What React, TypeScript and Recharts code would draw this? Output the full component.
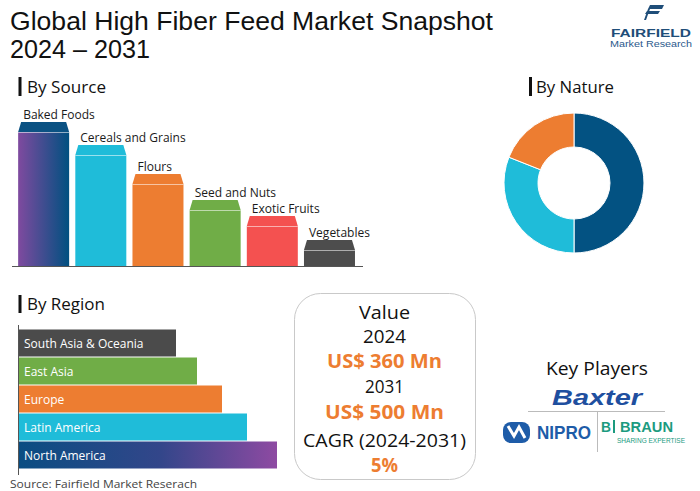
import React from 'react';
import { BarChart, Bar, XAxis, YAxis, PieChart, Pie, Cell } from 'recharts';

const FONT = "'Open Sans', 'Noto Sans', sans-serif";
const ARIAL = "'Liberation Sans', 'DejaVu Sans', sans-serif";

const sourceCategories = ['Baked Foods', 'Cereals and Grains', 'Flours', 'Seed and Nuts', 'Exotic Fruits', 'Vegetables'];
const sourceValues = [144, 121, 92, 66, 50, 26];
const sourceColors = ['url(#bakedGrad)', '#1fbcd9', '#ed7d31', '#70ad47', '#f45150', '#4d4d4d'];
const sourceCapColors = ['#0b5283', '#1fbcd9', '#ed7d31', '#70ad47', '#f45150', '#4d4d4d'];

const regionCategories = ['South Asia & Oceania', 'East Asia', 'Europe', 'Latin America', 'North America'];
const regionValues = [157, 178, 203, 228, 258];
const regionColors = ['#4b4b4b', '#70ad47', '#ed7d31', '#1fbcd9', 'url(#naGrad)'];

const natureCategories = ['Segment 1', 'Segment 2', 'Segment 3'];
const natureValues = [50, 31, 19];
const natureColors = ['#035282', '#1fbcd9', '#ed7d31'];

const sourceData = sourceCategories.map((name, i) => ({ name, value: sourceValues[i] }));
const regionData = regionCategories.map((name, i) => ({ name, value: regionValues[i] }));
const natureData = natureCategories.map((name, i) => ({ name, value: natureValues[i] }));

const SourceBarShape = (props: any) => {
  const { x, y, width, height, index, payload } = props;
  const cap = Math.min(10, height);
  const inset = 3;
  const body = sourceColors[index];
  const capColor = sourceCapColors[index];
  return (
    <g>
      <defs>
        <linearGradient id="bakedGrad" x1="0" y1="0" x2="1" y2="0">
          <stop offset="0%" stopColor="#7f4a9f" />
          <stop offset="100%" stopColor="#005080" />
        </linearGradient>
      </defs>
      <polygon
        points={`${x + inset},${y} ${x + width - inset},${y} ${x + width},${y + cap} ${x},${y + cap}`}
        fill={capColor}
      />
      <rect x={x} y={y + cap} width={width} height={height - cap} fill={body} />
      <line x1={x} x2={x + width} y1={y + cap + 0.5} y2={y + cap + 0.5} stroke="#ffffff" strokeOpacity={0.55} strokeWidth={1} />
      <text x={x + 5} y={y - 8} fontSize={12} fontFamily={FONT} fill="#1a1a1a" dominantBaseline="central">
        {payload.name}
      </text>
    </g>
  );
};

const RegionBarShape = (props: any) => {
  const { x, y, width, height, index, payload } = props;
  return (
    <g>
      <defs>
        <linearGradient id="naGrad" x1="0" y1="0" x2="1" y2="0">
          <stop offset="0%" stopColor="#0a4d82" />
          <stop offset="55%" stopColor="#33468a" />
          <stop offset="100%" stopColor="#8e4aa2" />
        </linearGradient>
      </defs>
      <rect x={x} y={y} width={width} height={height} fill={regionColors[index]} />
      <text x={x + 5} y={y + height / 2} fontSize={12} fontFamily={FONT} fill="#ffffff" dominantBaseline="central">
        {payload.name}
      </text>
    </g>
  );
};

export default function App() {
  return (
    <div style={{ position: 'absolute', left: 0, top: 0, width: 700, height: 491, background: '#ffffff', overflow: 'hidden' }}>
      <svg width={700} height={491} style={{ position: 'absolute', left: 0, top: 0 }}>
        {/* Title */}
        <text x={10} y={30} fontSize={25} fontFamily={ARIAL} fill="#111" textLength={483} lengthAdjust="spacingAndGlyphs">
          Global High Fiber Feed Market Snapshot
        </text>
        <text x={10} y={58} fontSize={25} fontFamily={ARIAL} fill="#111" textLength={140} lengthAdjust="spacingAndGlyphs">
          2024 – 2031
        </text>

        {/* Fairfield logo */}
        <polygon points="650,5 664,5 662,9 648,9" fill="#1f4e79" />
        <polygon points="647,11 660,11 658,14 645,14" fill="#1f4e79" />
        <polygon points="648,9 650,9 646,20 644,20" fill="#1f4e79" />
        <text x={651} y={36.5} fontSize={11} fontWeight={700} fontFamily={ARIAL} fill="#1f4e79" textAnchor="middle" textLength={80} lengthAdjust="spacingAndGlyphs">
          FAIRFIELD
        </text>
        <text x={651} y={47} fontSize={9} fontFamily={ARIAL} fill="#2b5a8c" textAnchor="middle" textLength={82} lengthAdjust="spacingAndGlyphs">
          Market Research
        </text>

        {/* Section headers */}
        <rect x={18.5} y={77} width={3} height={19} fill="#111" />
        <text x={27} y={86} fontSize={17} fontFamily={FONT} fill="#111" dominantBaseline="central" textLength={79} lengthAdjust="spacingAndGlyphs">
          By Source
        </text>
        <rect x={529} y={77} width={3} height={19} fill="#111" />
        <text x={536} y={86} fontSize={17} fontFamily={FONT} fill="#111" dominantBaseline="central" textLength={78} lengthAdjust="spacingAndGlyphs">
          By Nature
        </text>
        <rect x={18.5} y={295} width={3} height={18} fill="#111" />
        <text x={27} y={303} fontSize={17} fontFamily={FONT} fill="#111" dominantBaseline="central" textLength={78} lengthAdjust="spacingAndGlyphs">
          By Region
        </text>

        {/* Axis rules */}
        <line x1={12} x2={363} y1={266.5} y2={266.5} stroke="#555" strokeWidth={1} />
        <line x1={18.5} x2={18.5} y1={325} y2={475} stroke="#555" strokeWidth={1} />

        {/* Source */}
        <text x={10} y={483} fontSize={11} fontFamily={FONT} fill="#444" dominantBaseline="central" textLength={187} lengthAdjust="spacingAndGlyphs">
          Source: Fairfield Market Reserach
        </text>

        {/* Value box */}
        <rect x={294.5} y={293.5} width={181} height={186} rx={26} fill="none" stroke="#c9c9c9" strokeWidth={1} />
        <text x={384.5} y={312} fontSize={18} fontFamily={FONT} fill="#111" textAnchor="middle" dominantBaseline="central" textLength={51} lengthAdjust="spacingAndGlyphs">Value</text>
        <text x={384.5} y={336} fontSize={18} fontFamily={FONT} fill="#111" textAnchor="middle" dominantBaseline="central" textLength={43} lengthAdjust="spacingAndGlyphs">2024</text>
        <text x={384.5} y={360} fontSize={20} fontWeight={700} fontFamily={FONT} fill="#ed7d31" textAnchor="middle" dominantBaseline="central" textLength={115} lengthAdjust="spacingAndGlyphs">US$ 360 Mn</text>
        <text x={384.5} y={386} fontSize={18} fontFamily={FONT} fill="#111" textAnchor="middle" dominantBaseline="central" textLength={39} lengthAdjust="spacingAndGlyphs">2031</text>
        <text x={384.5} y={411} fontSize={20} fontWeight={700} fontFamily={FONT} fill="#ed7d31" textAnchor="middle" dominantBaseline="central" textLength={119} lengthAdjust="spacingAndGlyphs">US$ 500 Mn</text>
        <text x={384.5} y={440} fontSize={18} fontFamily={FONT} fill="#111" textAnchor="middle" dominantBaseline="central" textLength={163} lengthAdjust="spacingAndGlyphs">CAGR (2024-2031)</text>
        <text x={384.5} y={464} fontSize={20} fontWeight={700} fontFamily={FONT} fill="#ed7d31" textAnchor="middle" dominantBaseline="central" textLength={27} lengthAdjust="spacingAndGlyphs">5%</text>

        {/* Key players */}
        <text x={597} y={368} fontSize={18} fontFamily={FONT} fill="#111" textAnchor="middle" dominantBaseline="central" textLength={102} lengthAdjust="spacingAndGlyphs">Key Players</text>
        <text x={597} y={405} fontSize={22} fontWeight={900} fontStyle="italic" fontFamily={ARIAL} fill="#1f4f9f" textAnchor="middle" textLength={90} lengthAdjust="spacingAndGlyphs">Baxter</text>
        <line x1={528} x2={665} y1={411.5} y2={411.5} stroke="#bbb" strokeWidth={1} />
        <line x1={597.5} x2={597.5} y1={412} y2={452} stroke="#bbb" strokeWidth={1} />
        {/* NIPRO */}
        <rect x={503} y={422} width={27} height={21} rx={8} fill="#1e5ca8" />
        <polyline points="508,426 514,436 519,427 525,438" fill="none" stroke="#fff" strokeWidth={3} />
        <text x={537} y={439} fontSize={18} fontWeight={900} fontFamily={ARIAL} fill="#1e5ca8" textLength={54} lengthAdjust="spacingAndGlyphs">NIPRO</text>
        {/* B. Braun */}
        <text x={601} y={432} fontSize={14} fontWeight={700} fontFamily={ARIAL} fill="#1c9b7f" textLength={10} lengthAdjust="spacingAndGlyphs">B</text>
        <rect x={613} y={420} width={2} height={13} fill="#1c9b7f" />
        <text x={620} y={432} fontSize={14} fontWeight={700} fontFamily={ARIAL} fill="#1c9b7f" textLength={53} lengthAdjust="spacingAndGlyphs">BRAUN</text>
        <text x={617} y={443} fontSize={8} fontFamily={ARIAL} fill="#1c9b7f" textLength={68} lengthAdjust="spacingAndGlyphs">SHARING EXPERTISE</text>
      </svg>

      {/* By Source bar chart */}
      <div style={{ position: 'absolute', left: 15, top: 90, width: 380, height: 176 }}>
        <BarChart width={380} height={176} data={sourceData} margin={{ top: 26, right: 37, bottom: 0, left: 0 }} barCategoryGap="5.5%">
          <XAxis dataKey="name" hide />
          <YAxis type="number" domain={[0, 150]} hide />
          <Bar dataKey="value" shape={SourceBarShape} isAnimationActive={false} />
        </BarChart>
      </div>

      {/* By Nature donut */}
      <div style={{ position: 'absolute', left: 494, top: 103, width: 160, height: 160 }}>
        <PieChart width={160} height={160} margin={{ top: 0, right: 0, bottom: 0, left: 0 }}>
          <Pie
            data={natureData}
            dataKey="value"
            nameKey="name"
            cx={80}
            cy={80}
            innerRadius={36}
            outerRadius={70}
            startAngle={90}
            endAngle={-270}
            stroke="#ffffff"
            strokeWidth={1}
            isAnimationActive={false}
          >
            {natureData.map((d, i) => (
              <Cell key={d.name} fill={natureColors[i]} />
            ))}
          </Pie>
        </PieChart>
      </div>

      {/* By Region bar chart */}
      <div style={{ position: 'absolute', left: 19, top: 329, width: 300, height: 140 }}>
        <BarChart width={300} height={140} data={regionData} layout="vertical" margin={{ top: 0, right: 0, bottom: 0, left: 0 }} barCategoryGap={0.5}>
          <XAxis type="number" domain={[0, 300]} hide />
          <YAxis type="category" dataKey="name" hide />
          <Bar dataKey="value" shape={RegionBarShape} isAnimationActive={false} />
        </BarChart>
      </div>
    </div>
  );
}
